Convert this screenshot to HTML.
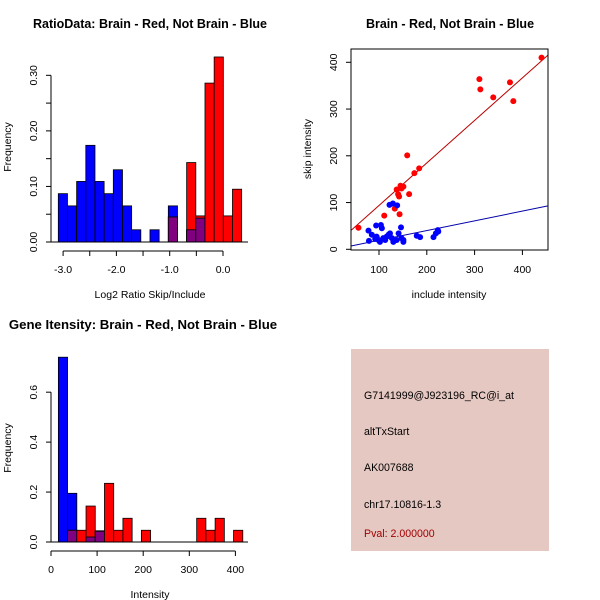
<!DOCTYPE html>
<html><head><meta charset="utf-8"><style>
html,body{margin:0;padding:0;background:#fff;}
svg{display:block;font-family:"Liberation Sans",sans-serif;}
</style></head><body>
<svg id="c" width="600" height="600" viewBox="0 0 600 600">
<text x="150" y="28" font-size="12.5" font-weight="bold" text-anchor="middle">RatioData: Brain - Red, Not Brain - Blue</text>
<text x="450" y="28" font-size="12.5" font-weight="bold" text-anchor="middle">Brain - Red, Not Brain - Blue</text>
<text x="143" y="329" font-size="13.2" font-weight="bold" text-anchor="middle">Gene Itensity: Brain - Red, Not Brain - Blue</text>
<g id="p1"></g>
<g id="p2"></g>
<g id="p3"></g>
<g>
<rect x="351" y="349" width="198" height="202" fill="#e6c8c2"/>
<text x="364" y="399" font-size="10.6">G7141999@J923196_RC@i_at</text>
<text x="364" y="435" font-size="10.6">altTxStart</text>
<text x="364" y="471" font-size="10.6">AK007688</text>
<text x="364" y="508" font-size="10.6">chr17.10816-1.3</text>
<text x="364" y="537" font-size="10.6" fill="#a00000">Pval: 2.000000</text>
</g>
</svg>
<script>
// ---- Ratio histogram data ----
const ratioBinStart = -3.09;
const ratioBinWidth = 0.172;
const ratioBlue = [0.087,0.065,0.109,0.174,0.109,0.087,0.130,0.065,0.022,0,0.022,0,0.065,0,0.022,0.043,0,0,0,0];
const ratioRed  = [0,0,0,0,0,0,0,0,0,0,0,0,0.045,0,0.143,0.047,0.286,0.333,0.047,0.095];
const ratioXTicks = [-3,-2.5,-2,-1.5,-1,-0.5,0];
const ratioXLabels = ["-3.0","-2.0","-1.0","0.0"];
const ratioXLabelVals = [-3,-2,-1,0];
const ratioYTicks = [0,0.05,0.10,0.15,0.20,0.25,0.30];
const ratioYLabels = ["0.00","0.10","0.20","0.30"];
const ratioYLabelVals = [0,0.1,0.2,0.3];
// ---- Intensity histogram data ----
const intBinStart = 16;
const intBinWidth = 20;
const intBlue = [0.74,0.195,0,0.02,0.045];
const intRed = [0,0.047,0.047,0.144,0.043,0.235,0.047,0.095,0,0.047,0,0,0,0,0,0.095,0.047,0.095,0,0.047];
const intXTicks = [0,100,200,300,400];
const intYTicks = [0,0.2,0.4,0.6];
const intYLabels = ["0.0","0.2","0.4","0.6"];
// ---- Scatter data ----
const redInclude = [57,111,133,143,137,142,145,147,151,140,163,159,174,184,310,312,339,374,381,440];
const redSkip    = [46,72,87,75,128,113,136,130,134,118,118,201,163,173,364,342,325,357,317,410];
const blueInclude = [78,79,94,104,106,95,99,102,109,113,116,120,123,122,129,138,127,130,137,141,146,147,151,151,179,186,214,219,223,224,92,85];
const blueSkip    = [40,18,51,52,45,27,20,16,24,20,27,31,34,95,98,94,24,16,20,34,47,24,20,16,29,26,26,34,41,38,22,31];
const redFit = [2.7,0.91];   // intercept, slope
const blueFit = [-1.5,0.208];
const scatXTicks = [100,200,300,400];
const scatYTicks = [0,100,200,300,400];

const NS="http://www.w3.org/2000/svg";
const FS=10.5, TFS=10.5;
function mk(parent,tag,attrs){const e=document.createElementNS(NS,tag);for(const k in attrs)e.setAttribute(k,attrs[k]);parent.appendChild(e);return e;}
function txt(parent,x,y,s,rot,fs){const t=mk(parent,'text',{x:x,y:y,'font-size':fs||FS,'text-anchor':'middle'});if(rot)t.setAttribute('transform','rotate(-90 '+x+' '+y+')');t.textContent=s;return t;}

function histogram(g,blue,red,start,width,sx,sy,y0){
  const n=Math.max(blue.length,red.length);
  for(let i=0;i<n;i++){
    const a=start+i*width,b=a+width;
    const bv=blue[i]||0, rv=red[i]||0;
    const x=sx(a), w=sx(b)-sx(a);
    if(bv>0){const r=mk(g,'rect',{x:x,y:sy(bv),width:w,height:y0-sy(bv),fill:'#0000ff',stroke:'#000','stroke-width':0.8});
      
      }
    if(rv>0){const r=mk(g,'rect',{x:x,y:sy(rv),width:w,height:y0-sy(rv),fill:'#ff0000',stroke:'#000','stroke-width':0.8});
      
      }
    const m=Math.min(bv,rv);
    if(m>0){const r=mk(g,'rect',{x:x,y:sy(m),width:w,height:y0-sy(m),fill:'#800080',stroke:'#000','stroke-width':0.8});
      
      }
  }
}

// Panel 1
(function(){
  const g=document.getElementById('p1');
  const sx=v=>223+v*53.3, sy=v=>242-v*555.6;
  histogram(g,ratioBlue,ratioRed,ratioBinStart,ratioBinWidth,sx,sy,242);
  mk(g,'line',{x1:51,y1:242,x2:248,y2:242,stroke:'#000'});
  const xa=mk(g,'g',{});
  
  
  mk(xa,'line',{x1:sx(-3),y1:251,x2:sx(0),y2:251,stroke:'#000'});
  ratioXTicks.forEach(v=>mk(xa,'line',{x1:sx(v),y1:251,x2:sx(v),y2:256,stroke:'#000'}));
  ratioXLabels.forEach((s,i)=>txt(xa,sx(ratioXLabelVals[i]),273,s));
  const ya=mk(g,'g',{});
  
  
  mk(ya,'line',{x1:51,y1:sy(0),x2:51,y2:sy(0.3),stroke:'#000'});
  ratioYTicks.forEach(v=>mk(ya,'line',{x1:46,y1:sy(v),x2:51,y2:sy(v),stroke:'#000'}));
  ratioYLabels.forEach((s,i)=>txt(ya,37,sy(ratioYLabelVals[i]),s,true));
  const xt=txt(g,150,298,'Log2 Ratio Skip/Include',false,TFS);
  
  
  const yt=txt(g,11,147,'Frequency',true,TFS);
  
  
})();

// Panel 3
(function(){
  const g=document.getElementById('p3');
  const sx=v=>51+v*0.461, sy=v=>542-v*249.7;
  histogram(g,intBlue,intRed,intBinStart,intBinWidth,sx,sy,542);
  mk(g,'line',{x1:51,y1:542,x2:248,y2:542,stroke:'#000'});
  const xa=mk(g,'g',{});
  
  
  mk(xa,'line',{x1:sx(0),y1:551,x2:sx(400),y2:551,stroke:'#000'});
  intXTicks.forEach(v=>{mk(xa,'line',{x1:sx(v),y1:551,x2:sx(v),y2:556,stroke:'#000'});txt(xa,sx(v),573,String(v));});
  const ya=mk(g,'g',{});
  
  
  mk(ya,'line',{x1:51,y1:sy(0),x2:51,y2:sy(0.6),stroke:'#000'});
  intYTicks.forEach((v,i)=>{mk(ya,'line',{x1:46,y1:sy(v),x2:51,y2:sy(v),stroke:'#000'});txt(ya,37,sy(v),intYLabels[i],true);});
  const xt=txt(g,150,598,'Intensity',false,TFS);
  
  
  const yt=txt(g,11,448,'Frequency',true,TFS);
  
  
})();

// Panel 2
(function(){
  const g=document.getElementById('p2');
  const sx=v=>379+(v-100)*0.478, sy=v=>249.3-v*0.4675;
  const L=351,R=548,T=49,B=250;
  const x0=(L-379)/0.478+100, x1=(R-379)/0.478+100;
  const clip=mk(g,'clipPath',{id:'sc'});mk(clip,'rect',{x:L,y:T,width:R-L,height:B-T});
  const lines=mk(g,'g',{'clip-path':'url(#sc)'});
  const rl=mk(lines,'line',{x1:sx(x0),y1:sy(redFit[0]+redFit[1]*x0),x2:sx(x1),y2:sy(redFit[0]+redFit[1]*x1),stroke:'#bb0000'});
  
  
  const bl=mk(lines,'line',{x1:sx(x0),y1:sy(blueFit[0]+blueFit[1]*x0),x2:sx(x1),y2:sy(blueFit[0]+blueFit[1]*x1),stroke:'#0000aa'});
  
  
  redInclude.forEach((v,i)=>{const c=mk(g,'circle',{cx:sx(v),cy:sy(redSkip[i]),r:3,fill:'#ff0000'});
    
    });
  blueInclude.forEach((v,i)=>{const c=mk(g,'circle',{cx:sx(v),cy:sy(blueSkip[i]),r:3,fill:'#0000ff'});
    
    });
  const box=mk(g,'rect',{x:L,y:T,width:R-L,height:B-T,fill:'none',stroke:'#000'});
  
  
  const xa=mk(g,'g',{});
  
  
  scatXTicks.forEach(v=>{mk(xa,'line',{x1:sx(v),y1:B,x2:sx(v),y2:B+5,stroke:'#000'});txt(xa,sx(v),273,String(v));});
  const ya=mk(g,'g',{});
  
  
  scatYTicks.forEach(v=>{mk(ya,'line',{x1:L-5,y1:sy(v),x2:L,y2:sy(v),stroke:'#000'});txt(ya,L-14,sy(v),String(v),true);});
  const xt=txt(g,449,298,'include intensity',false,TFS);
  
  
  const yt=txt(g,311,149,'skip intensity',true,TFS);
  
  
})();
</script>
</body></html>
